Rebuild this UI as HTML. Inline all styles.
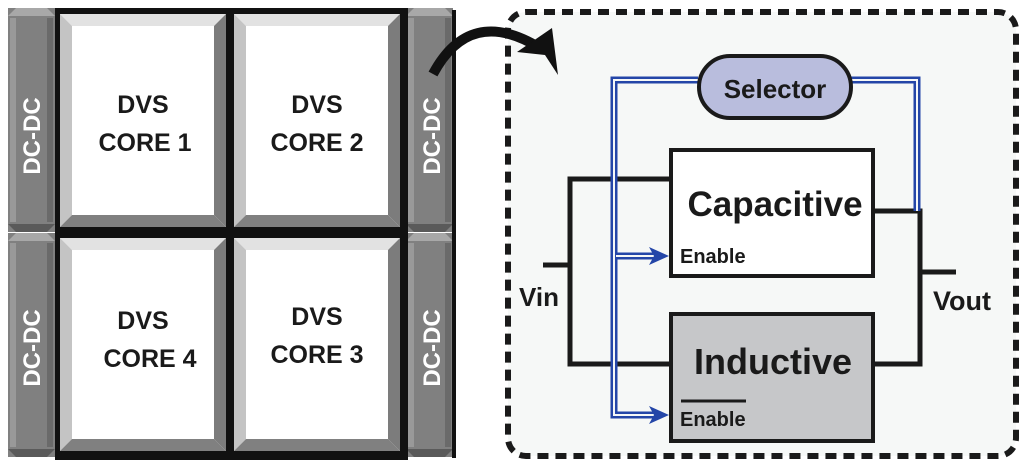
<!DOCTYPE html>
<html><head><style>html,body{margin:0;padding:0;background:#fff;width:1024px;height:466px;overflow:hidden}</style></head>
<body>
<svg width="1024" height="466" viewBox="0 0 1024 466" xmlns="http://www.w3.org/2000/svg" font-family="'Liberation Sans', sans-serif" font-weight="bold">
<defs>
<g id="core">
  <rect x="0" y="0" width="166" height="213" fill="#fff"/>
  <polygon points="0,0 166,0 154,12 12,12" fill="#e2e2e2"/>
  <polygon points="0,0 12,12 12,201 0,213" fill="#c4c4c4"/>
  <polygon points="166,0 166,213 154,201 154,12" fill="#7c7c7c"/>
  <polygon points="0,213 166,213 154,201 12,201" fill="#808080"/>
</g>
<g id="dc">
  <rect x="0" y="0" width="47" height="224" fill="#808080"/>
  <polygon points="0,8 8,0 39,0 47,8" fill="#a8a8a8"/>
  <polygon points="0,216 8,224 39,224 47,216" fill="#5a5a5a"/>
  <rect x="2" y="10" width="6" height="204" fill="#999"/>
  <rect x="39" y="10" width="6" height="204" fill="#6a6a6a"/>
</g>
</defs>
<use href="#dc" x="8" y="8"/>
<use href="#dc" x="8" y="233"/>
<use href="#dc" x="406" y="8"/>
<use href="#dc" x="406" y="233"/>
<rect x="452" y="10" width="4" height="448" fill="#111"/>
<rect x="55" y="8" width="353" height="452" fill="#111"/>
<use href="#core" x="60" y="14"/>
<use href="#core" x="234" y="14"/>
<use href="#core" x="60" y="238"/>
<use href="#core" x="234" y="238"/>
<g fill="#1a1a1a" font-size="25" text-anchor="middle">
<text x="143" y="113">DVS</text><text x="145" y="151">CORE 1</text>
<text x="317" y="113">DVS</text><text x="317" y="151">CORE 2</text>
<text x="143" y="329">DVS</text><text x="150" y="367">CORE 4</text>
<text x="317" y="325">DVS</text><text x="317" y="363">CORE 3</text>
</g>
<g fill="#fff" font-size="24" text-anchor="middle">
<text transform="translate(40,136) rotate(-90)">DC-DC</text>
<text transform="translate(440,136) rotate(-90)">DC-DC</text>
<text transform="translate(40,348) rotate(-90)">DC-DC</text>
<text transform="translate(440,348) rotate(-90)">DC-DC</text>
</g>
<rect x="508" y="12" width="508" height="444" rx="18" fill="#f6f8f7" stroke="#1a1a1a" stroke-width="6" stroke-dasharray="11,7"/>
<path d="M433,74 Q470,5 540,48" fill="none" stroke="#111" stroke-width="10"/>
<polygon points="517,52 552,28 558,75 545,55" fill="#111"/>
<g stroke="#1a1a1a" stroke-width="5" fill="none">
<polyline points="671,179 570,179 570,364 671,364"/>
<line x1="543" y1="265" x2="570" y2="265"/>
<polyline points="873,211 920,211 920,364 873,364"/>
<line x1="920" y1="272" x2="956" y2="272"/>
</g>
<g fill="none" stroke="#2446a8" stroke-width="7">
<polyline points="698,80 614,80 614,415 660,415"/>
<line x1="614" y1="256" x2="660" y2="256"/>
<polyline points="850,80 917,80 917,211"/>
</g>
<g fill="none" stroke="#f6f8f7" stroke-width="2">
<polyline points="698,80 614,80 614,415 660,415"/>
<line x1="616" y1="256" x2="660" y2="256"/>
<polyline points="850,80 917,80 917,211"/>
</g>
<polygon points="649,247 669,256 649,265 654,256" fill="#2446a8"/>
<polygon points="649,406 669,415 649,424 654,415" fill="#2446a8"/>
<rect x="699" y="56" width="152" height="62" rx="31" fill="#b9bddd" stroke="#1a1a1a" stroke-width="4"/>
<text x="775" y="98" font-size="26" text-anchor="middle" fill="#1a1a1a">Selector</text>
<rect x="671" y="150" width="202" height="126" fill="#fff" stroke="#1a1a1a" stroke-width="4"/>
<text x="775" y="216" font-size="35" text-anchor="middle" fill="#1a1a1a">Capacitive</text>
<text x="680" y="263" font-size="20" fill="#1a1a1a">Enable</text>
<rect x="671" y="314" width="202" height="127" fill="#c6c7c9" stroke="#1a1a1a" stroke-width="4"/>
<text x="773" y="374" font-size="36" text-anchor="middle" fill="#1a1a1a">Inductive</text>
<line x1="681" y1="401" x2="746" y2="401" stroke="#1a1a1a" stroke-width="3"/>
<text x="680" y="426" font-size="20" fill="#1a1a1a">Enable</text>
<text x="519" y="306" font-size="26" fill="#1a1a1a">Vin</text>
<text x="933" y="310" font-size="27" fill="#1a1a1a">Vout</text>
</svg>
</body></html>
